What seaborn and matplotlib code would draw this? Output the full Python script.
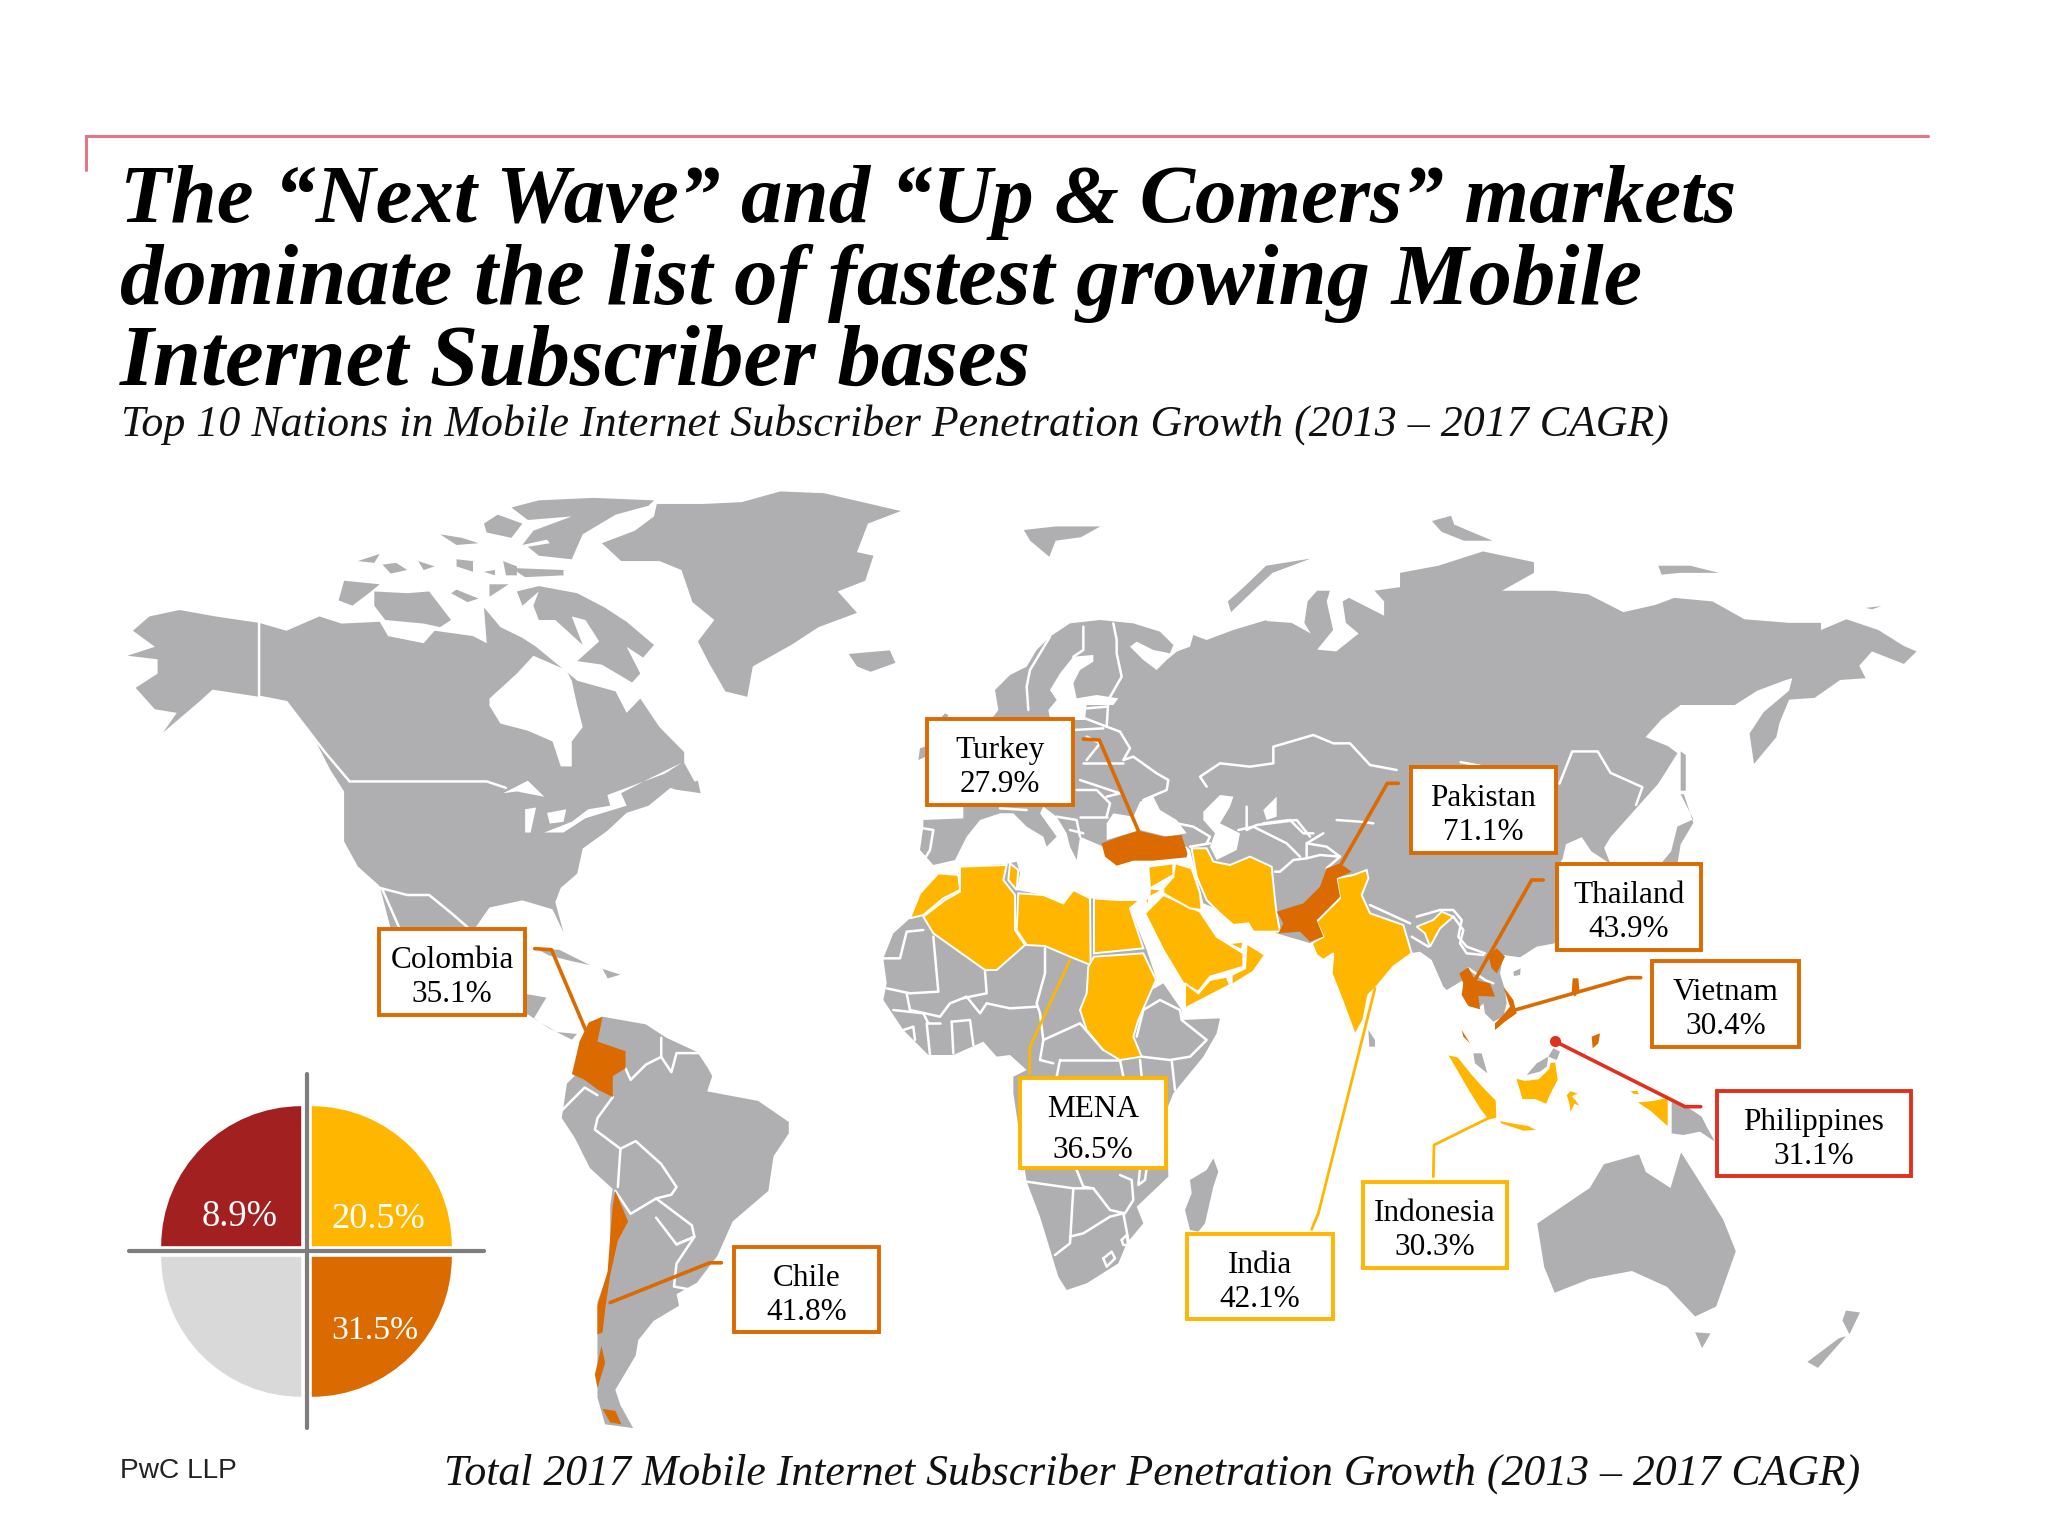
import matplotlib
matplotlib.use("Agg")
import matplotlib.pyplot as plt
from matplotlib.patches import Polygon, Rectangle
import seaborn as sns

# ---------------- values ----------------
MARKETS = ["Turkey", "Pakistan", "Thailand", "Vietnam", "Philippines", "Colombia", "Chile", "MENA", "India", "Indonesia"]
GROWTH = [27.9, 71.1, 43.9, 30.4, 31.1, 35.1, 41.8, 36.5, 42.1, 30.3]
GROUPS = ["up", "up", "up", "up", "red", "up", "up", "next", "next", "next"]
SHARE_LABELS = ["31.5%", "", "8.9%", "20.5%"]
TITLE_LINES = ["The “Next Wave” and “Up & Comers” markets",
               "dominate the list of fastest growing Mobile",
               "Internet Subscriber bases"]
SUBTITLE = "Top 10 Nations in Mobile Internet Subscriber Penetration Growth (2013 – 2017 CAGR)"
FOOTER = "Total 2017 Mobile Internet Subscriber Penetration Growth (2013 – 2017 CAGR)"
SOURCE = "PwC LLP"

# ---------------- styles ----------------
GRAY, ORANGE, YELLOW, DARKRED, RED, LIGHT, RULE, DIV = "#AFAFB1", "#DB6A00", "#FFB600", "#A32020", "#E0301E", "#D9D9D9", "#E27588", "#7D7D7D"
GROUP_COLOR = {"up": ORANGE, "next": YELLOW, "red": RED}
SERIF, SANS = "Liberation Serif", "Liberation Sans"

# map-sheet frames: origin and scale of each traced sheet of the outline
FR = {1: (100, 470, 1.823, 2.8), 2: (960, 480, 1.568, 2.8), 3: (860, 840, 1.425, 2.529), 4: (100, 900, 1.96, 2.613),
      6: (900, 620, 3, 3), 7: (870, 860, 3, 3), 8: (1400, 880, 3, 3), 9: (1120, 800, 3, 3)}
def S(fr, *pts):
    x0, y0, sx, sy = FR[fr]
    return [(x0 + a / sx, y0 + b / sy) for a, b in pts]

# ---------------- outlines ----------------
LAND = [
 S(1,(60,450),(90,410),(145,392),(210,410),(290,428),(340,450),(400,410),(440,430),(510,425),(525,465),(590,485),(610,450),(680,465),(705,485),(700,385),(730,440),(770,470),(795,495),(870,590),(940,620),(960,680),(985,640),(1020,720),(1065,790),(1065,820),(1090,890),(1040,890),(1000,940),(960,960),(925,1010),(880,1060),(870,1130),(840,1170),(830,1210),(845,1295),(825,1230),(770,1205),(710,1225),(685,1280))
 + S(4,(760,150),(832,245),(875,255),(850,310),(895,345),(935,350),(925,365),(880,335),(840,300),(700,280))
 + S(1,(530,1285),(510,1165),(470,1110),(445,1040),(445,900),(420,840),(390,750),(340,650),(290,635),(205,615),(180,650),(115,735),(140,680),(100,670),(65,610),(105,570),(105,530),(50,520),(100,495)),
 S(1,(1015,95),(1100,95),(1170,90),(1240,60),(1320,65),(1460,115),(1400,150),(1380,230),(1410,240),(1395,310),(1345,340),(1380,400),(1310,440),(1290,460),(1260,490),(1190,550),(1180,635),(1140,620),(1110,540),(1090,480),(1120,420),(1080,370),(1060,280),(1020,255),(950,255),(915,205),(975,170),(1010,130)),
 S(1,(750,105),(800,85),(900,78),(1010,85),(1000,100),(940,125),(880,180),(860,250),(800,240),(780,215),(820,205),(815,195),(770,210),(790,170),(860,130),(780,140)),
 S(1,(700,150),(725,125),(770,150),(750,190),(705,175)),
 S(1,(760,275),(845,280),(845,295),(775,300),(740,265)),
 S(1,(470,255),(510,235),(500,260)), S(1,(515,265),(540,260),(560,280),(530,290)), S(1,(620,180),(660,190),(690,205),(650,210)),
 S(1,(580,255),(610,270),(590,280)), S(1,(650,250),(680,255),(680,285),(650,270)), S(1,(700,285),(720,280),(720,295)), S(1,(735,255),(760,270),(760,295),(740,295)),
 S(1,(445,310),(510,320),(490,345),(460,380),(435,365)),
 S(1,(500,340),(560,345),(600,340),(640,420),(620,440),(590,430),(520,420),(500,380)),
 S(1,(650,335),(690,360),(670,370),(640,345)), S(1,(710,320),(745,320),(710,355)),
 S(1,(760,340),(800,325),(870,345),(920,385),(960,425),(1010,490),(990,525),(960,495),(985,570),(970,595),(915,545),(870,535),(910,480),(885,420),(860,410),(880,490),(830,420),(800,420),(790,380),(800,340),(770,380)),
 S(1,(790,530),(830,560),(800,570),(790,555)),
 S(1,(1040,890),(1090,870),(1095,905),(1050,895)),
 S(1,(1365,515),(1440,505),(1450,540),(1405,565),(1380,550)),
 S(4,(855,127),(900,130),(960,170),(925,160),(880,145)), S(4,(985,180),(1020,195),(995,205)),
 # Eurasia
 S(6,(290,240),(285,210),(330,165),(380,140),(410,90),(450,50),(510,10),(600,0),(650,5),(700,10),(780,35),(820,75),(810,100),(760,90),(710,65),(690,80),(730,120),(770,150),(800,120),(830,95),(870,80),(880,45),(920,60),(1000,30),(1100,0))
 + S(2,(480,395),(520,400),(550,430),(540,400),(545,340),(560,310),(580,310),(575,340),(585,420),(560,475),(590,480),(625,430),(605,400),(600,340),(610,330),(665,380),(665,340),(650,310),(690,300),(690,260),(750,240),(820,200),(900,230),(900,260),(850,310),(930,310),(985,320),(1040,370),(1090,350),(1120,330),(1180,340),(1230,390),(1300,400),(1350,400),(1350,420),(1390,390),(1440,420),(1480,465),(1500,480),(1480,515),(1430,480),(1410,520),(1420,555),(1380,560),(1340,610),(1300,615),(1285,680),(1280,720),(1245,795),(1238,710),(1260,650),(1300,590),(1305,555),(1295,560),(1250,590),(1215,630),(1130,630),(1100,670),(1075,720),(1110,745),(1125,765),(1095,850),(1060,920),(1040,960),(1020,1000),(1010,1030),(1020,1075),(990,1040),(975,1000),(950,1020),(945,1060),(940,1075))
 + S(8,(465,190),(410,200),(360,232),(310,225),(300,280),(315,330),(320,370),(310,410),(280,425),(255,400),(250,370),(235,385),(190,350),(190,300),(140,330),(130,320),(95,240),(60,215))
 + S(9,(870,460),(640,450),(470,400),(250,310),(210,150))
 + S(6,(860,680),(610,680),(540,650),(530,720),(510,680),(500,640),(470,590),(430,560),(420,580),(470,650),(440,680),(430,650),(380,620),(340,580),(300,580),(240,600),(200,650),(165,720),(100,735),(60,690),(70,620),(70,600),(190,595),(190,560),(150,400),(280,290),(295,270)),
 S(6,(55,420),(60,385),(80,378),(78,410)), S(6,(120,296),(135,280),(145,285),(140,298)),
 S(2,(100,140),(150,130),(220,130),(190,160),(150,170),(140,215),(130,200),(110,170)),
 S(2,(445,300),(480,240),(550,220),(490,260),(460,310),(425,370),(420,340)),
 S(2,(1095,240),(1145,240),(1190,260),(1130,260),(1100,265)),
 S(2,(740,115),(770,100),(775,125),(835,170),(790,170),(755,145)),
 S(2,(1420,358),(1445,353),(1430,362)),
 S(2,(1130,760),(1138,770),(1138,870),(1130,870)),
 S(2,(1130,880),(1150,950),(1125,970),(1115,1040),(1100,1072),(1125,1075),(1130,1020),(1150,960),(1135,880)),
 S(8,(340,275),(362,265),(360,285),(342,288)),
 S(9,(745,690),(765,720),(765,740),(748,740)),
 S(8,(220,520),(245,520),(262,580),(225,550)),
 S(8,(380,585),(410,550),(445,530),(440,560),(420,575)), S(8,(445,530),(460,505),(480,515),(470,540)),
 S(8,(815,665),(860,680),(905,710),(920,740),(945,785),(900,755),(850,765),(815,760)),
 # Africa
 S(7,(120,175),(150,100),(205,40),(265,45),(270,20),(410,12),(440,5),(450,40),(440,90),(520,105),(580,130),(610,90),(660,115),(740,120),(810,120),(780,145),(830,270),(860,360),(845,390),(880,370),(935,450),(935,480),(1050,475),(1040,520),(1000,590),(910,700),(890,750),(895,950),(800,1040),(820,1090),(770,1150),(745,1210),(650,1270),(590,1290),(565,1250),(510,1070),(470,965),(430,700),(430,650),(470,630),(420,585),(380,590),(340,545),(250,585),(175,585),(100,510),(40,420),(50,370),(40,295),(70,220)),
 S(7,(1030,895),(1045,935),(1030,980),(1005,1090),(985,1115),(960,1110),(945,1050),(965,1000),(960,960),(1010,930)),
 # South America
 S(4,(985,305),(1070,325),(1110,360),(1175,400),(1200,460),(1190,500),(1290,525),(1350,580),(1350,610),(1320,670),(1310,760),(1240,840),(1210,930),(1170,1000),(1130,1030),(1135,1060),(1085,1100),(1055,1150),(1050,1190),(1010,1280),(1020,1320),(1045,1380),(990,1370),(975,1300),(975,1200),(975,1130),(975,1050),(1000,960),(1000,800),(1005,755),(960,700),(930,620),(905,570),(915,480),(930,460),(940,370),(960,320)),
 # Oceania
 S(3,(965,970),(1040,880),(1060,820),(1110,795),(1120,840),(1155,880),(1170,790),(1195,860),(1230,960),(1248,1040),(1220,1180),(1190,1205),(1150,1130),(1100,1090),(1040,1110),(990,1145),(975,1080)),
 S(3,(1190,1245),(1212,1248),(1200,1285)),
 S(3,(1350,1320),(1395,1260),(1405,1255),(1365,1335)), S(3,(1405,1190),(1425,1195),(1410,1250),(1400,1215)),
]
WATER = [
 S(1,(710,640),(760,570),(790,520),(850,560),(860,590),(870,660),(880,720),(860,760),(860,830),(840,830),(825,760),(780,730),(730,710),(710,660)),
 S(1,(775,950),(795,945),(785,1015),(775,1015)),
 S(1,(735,905),(780,870),(810,915),(760,900)),
 S(1,(815,960),(850,950),(845,985),(820,990)),
 S(1,(810,1015),(845,1015),(885,975),(960,940),(950,905),(1000,865),(1060,820),(1030,850),(960,890),(925,910),(930,940),(890,950),(860,985)),
 S(6,(450,295),(445,270),(470,240),(450,210),(480,160),(520,110),(580,105),(580,125),(540,150),(520,190),(530,235),(590,225),(655,235),(640,255),(560,255),(555,300),(520,300)),
 S(6,(620,610),(640,580),(700,590),(720,545),(760,530),(780,570),(830,600),(860,640),(800,650),(720,630),(620,660)),
 S(6,(910,575),(960,525),(1000,530),(990,560),(960,610),(1020,640),(1010,690),(950,720),(930,680),(945,640),(910,600)),
 S(6,(1090,570),(1130,530),(1130,590),(1100,600)),
]
NEXT_WAVE = [
 S(7,(120,175),(150,100),(205,40),(265,45),(270,90),(220,115),(160,165)),
 S(7,(160,170),(225,120),(270,95),(270,20),(410,15),(400,60),(435,105),(435,210),(465,255),(380,330),(345,330),(190,220)),
 S(7,(420,10),(445,30),(440,90),(415,60)),
 S(7,(445,100),(520,105),(580,130),(610,90),(660,115),(662,315),(600,290),(525,258),(470,255),(440,210)),
 S(7,(672,115),(740,120),(810,120),(780,145),(820,265),(672,280)),
 S(7,(672,290),(820,280),(858,360),(840,400),(805,480),(790,530),(815,590),(750,600),(700,570),(650,510),(630,450),(650,400),(655,320)),
 S(7,(825,160),(880,105),(990,155),(1040,230),(1120,280),(1120,320),(1020,350),(985,395),(940,370),(880,270)),
 S(7,(945,370),(985,400),(1020,360),(1070,350),(1080,375),(945,445)),
 S(7,(1085,345),(1125,325),(1130,250),(1185,285),(1150,335),(1085,375)),
 S(7,(1075,250),(1120,245),(1115,270)),
 S(9,(75,300),(100,285),(130,270),(90,265),(85,320)),
 S(9,(85,200),(160,190),(160,225),(90,265)),
 S(9,(165,190),(215,205),(240,280),(245,330),(210,325),(130,280),(130,265),(160,230)),
 S(9,(215,145),(260,145),(280,185),(330,195),(390,170),(455,200),(465,300),(470,340),(480,395),(400,395),(385,370),(340,375),(300,340),(260,300),(230,230)),
 S(9,(650,235),(700,225),(740,210),(745,235),(725,285),(750,340),(850,375),(875,460),(820,500),(770,560),(745,585),(730,660),(705,705),(670,610),(635,520),(640,460),(610,480),(590,465),(575,430),(610,410),(590,365),(660,295)),
 S(9,(890,380),(940,360),(965,335),(1000,350),(960,385),(930,440),(915,400)),
 S(8,(140,522),(175,530),(215,580),(255,625),(290,660),(292,715),(265,722),(240,690),(200,625),(165,565)),
 S(8,(298,720),(340,728),(385,735),(418,752),(370,755),(330,742),(300,732)),
 S(8,(345,592),(375,600),(415,595),(445,565),(450,545),(468,545),(476,600),(455,640),(440,675),(405,660),(365,660),(355,625)),
 S(8,(497,645),(510,630),(540,640),(520,650),(530,660),(545,685),(525,675),(510,705),(505,670)),
 S(8,(705,665),(760,660),(806,650),(806,745),(750,695)),
 S(8,(685,630),(715,630),(720,645),(700,645)),
 S(8,(520,596),(545,598),(545,601),(520,600)),
 S(8,(568,782),(590,770),(580,782)),
]
UP_COMERS = [
 S(6,(605,670),(660,650),(715,632),(790,650),(845,645),(862,700),(860,712),(760,722),(700,722),(650,737),(615,710)),
 S(9,(620,205),(660,190),(695,215),(650,235),(660,290),(590,360),(610,410),(570,425),(540,395),(475,400),(490,370),(470,335),(550,310),(600,260)),
 S(8,(178,280),(205,262),(225,300),(270,310),(285,350),(235,348),(240,388),(205,378),(185,345),(190,310)),
 S(8,(185,450),(210,490),(190,470)),
 S(8,(265,225),(290,205),(315,230),(290,280),(275,265)),
 S(8,(310,320),(340,360),(350,400),(315,425),(285,450),(285,430),(305,410),(330,380)),
 S(8,(518,295),(535,295),(538,330),(525,350),(515,340)),
 S(8,(575,470),(600,460),(595,490),(578,505)),
 S(4,(985,305),(975,370),(1030,395),(1030,440),(1005,460),(1005,515),(975,495),(950,470),(925,455),(940,370),(958,320)),
 S(4,(1010,760),(1035,840),(1015,890),(1000,980),(990,1070),(985,1130),(975,1135),(975,1060),(995,970),(1000,880),(1005,800)),
 S(4,(983,1165),(990,1210),(975,1275),(970,1240)),
 S(4,(985,1330),(1010,1335),(1022,1370),(1000,1365)),
]
BORDERS = [
 S(1,(290,428),(290,635),(340,650),(385,740),(410,790),(455,872)),
 S(1,(455,872),(705,872),(740,890)),
 S(1,(510,1170),(560,1190),(600,1190),(640,1240),(670,1280)),
 S(1,(515,1175),(545,1280)),
 S(4,(905,550),(950,490),(975,510)),
 S(4,(1005,515),(975,570),(970,600),(1000,630),(1020,650),(1015,750)),
 S(4,(1020,650),(1050,630),(1100,690),(1130,750),(1120,770),(1090,780),(1040,820),(1010,760)),
 S(4,(1090,780),(1130,820),(1160,850),(1165,880),(1130,900),(1090,830)),
 S(4,(1130,900),(1165,880),(1130,950),(1125,1010),(1165,1020)),
 S(4,(1030,440),(1040,470),(1070,430),(1100,410),(1100,360)),
 S(4,(1100,410),(1120,450),(1130,400),(1175,400),(1190,430)),
 S(7,(40,295),(90,295),(110,215),(160,210)),
 S(7,(190,230),(205,395),(120,400),(50,385)),
 S(7,(345,335),(350,400),(300,410),(280,415)),
 S(7,(525,265),(525,340),(500,430),(510,460)),
 S(7,(350,430),(420,445),(500,440)),
 S(7,(520,540),(630,490),(700,570)),
 S(7,(510,460),(520,540),(510,600),(550,610)),
 S(7,(570,600),(750,600)), S(7,(560,650),(570,600)),
 S(7,(800,530),(820,450),(870,420),(930,450),(935,480),(1010,540),(960,590),(900,600),(815,590)),
 S(7,(905,600),(915,690)), S(7,(750,600),(760,650)), S(7,(810,600),(815,650)),
 S(7,(110,400),(120,450),(210,470),(240,430),(290,410),(330,460),(350,430)),
 S(7,(175,490),(210,490)), S(7,(245,485),(300,480),(310,555)), S(7,(245,485),(250,580)), S(7,(170,490),(180,585)),
 S(7,(70,450),(160,460),(175,490)), S(7,(100,510),(130,500),(135,540)),
 S(7,(470,965),(610,985),(670,985),(720,1050),(765,1060),(790,1020),(785,960),(750,945)),
 S(7,(610,985),(600,1150),(555,1185)),
 S(7,(600,1130),(640,1120),(720,1070),(760,1060),(775,1140)),
 S(7,(620,930),(640,980),(670,985)),
 S(7,(700,1195),(725,1175),(735,1195),(710,1220),(700,1195)),
 S(7,(755,1140),(770,1125),(775,1155),(760,1155),(755,1140)),
 S(7,(810,925),(805,975),(825,960),(830,925)),
 S(6,(640,10),(650,60),(650,100),(665,170),(625,240),(620,320),(660,335),(690,385),(670,420),(700,410),(770,460),(805,480),(800,510),(730,540)),
 S(6,(450,50),(390,150),(380,200),(385,270)),
 S(6,(550,20),(550,90),(520,110)),
 S(6,(560,265),(620,260)), S(6,(555,295),(620,320)), S(6,(520,330),(610,325)),
 S(6,(560,350),(600,370),(560,420)), S(6,(550,430),(670,430)),
 S(6,(540,480),(660,520),(620,530)), S(6,(530,510),(590,510),(630,550),(620,590)),
 S(6,(540,590),(620,590)), S(6,(470,590),(530,600),(540,650)), S(6,(510,630),(550,640)),
 S(6,(70,625),(100,630),(90,690),(75,715)), S(6,(300,565),(380,570)),
 S(6,(830,610),(880,620),(930,650),(920,670)), S(6,(870,680),(930,670)),
 S(6,(920,500),(900,470),(960,430),(1050,440),(1120,430),(1120,380),(1240,345),(1300,370),(1350,370),(1410,435),(1490,450)),
 S(6,(1040,560),(1040,630),(1070,615),(1190,600),(1230,650)),
 S(2,(785,790),(815,800)),
 S(2,(940,850),(960,760),(1000,760),(1020,820),(1070,860),(1060,910)),
 S(9,(465,215),(480,215),(520,180),(560,175),(600,165),(660,170),(620,205)),
 S(9,(355,90),(400,80),(500,130),(540,170)),
 S(9,(430,70),(510,60),(550,100),(580,100)),
 S(9,(560,130),(610,100)), S(9,(650,60),(720,65),(760,70)),
 S(9,(560,170),(560,130),(620,140),(660,170)),
 S(9,(750,315),(870,370)), S(9,(875,410),(925,440)),
 S(9,(1000,350),(1030,390),(1020,430),(1040,460),(1090,465)),
 S(8,(50,110),(120,90),(160,90),(185,120),(175,170),(200,200),(255,220)),
 S(8,(205,265),(255,300),(280,310)),
]

# ---------------- callouts (layout) ----------------
BOXES = {"Turkey": (927, 719, 146, 86), "Pakistan": (1411, 767, 145, 86), "Thailand": (1557, 864, 144, 86),
         "Vietnam": (1652, 961, 147, 86), "Philippines": (1717, 1091, 194, 85), "Colombia": (379, 929, 146, 86),
         "Chile": (734, 1247, 145, 85), "MENA": (1020, 1078, 146, 90), "India": (1187, 1234, 146, 85), "Indonesia": (1363, 1182, 144, 86)}
LEADERS = {"Turkey": S(6,(550,357),(598,360),(715,632)),
           "Pakistan": S(6,(1325,730),(1462,490),(1495,490)),
           "Thailand": S(8,(225,300),(395,0),(430,0)),
           "Vietnam": S(8,(345,390),(685,293),(722,293)),
           "Philippines": S(8,(465,484),(855,680),(902,680)),
           "Colombia": S(4,(852,127),(885,130),(952,340)),
           "Chile": S(4,(1000,1052),(1195,948),(1218,948)),
           "MENA": S(7,(600,300),(480,560),(478,640)),
           "India": S(9,(765,565)) + S(7,(1345,1060),(1325,1108)),
           "Indonesia": S(8,(270,712),(102,795),(100,890))}

sns.set_theme(style="white")
plt.rcParams["font.family"] = [SERIF, "DejaVu Serif"]
fig = plt.figure(figsize=(20.48, 15.36), dpi=100, facecolor="white")
ax = fig.add_axes([0, 0, 1, 1])

for poly in LAND:
    ax.add_patch(Polygon(poly, closed=True, fc=GRAY, ec="none", zorder=1))
for poly in WATER:
    ax.add_patch(Polygon(poly, closed=True, fc="white", ec="none", zorder=1.5))
for line in BORDERS:
    ax.plot(*zip(*line), color="white", lw=1.8, zorder=2, solid_joinstyle="round")
for poly in NEXT_WAVE:
    ax.add_patch(Polygon(poly, closed=True, fc=YELLOW, ec="white", lw=1.4, zorder=3))
for poly in UP_COMERS:
    ax.add_patch(Polygon(poly, closed=True, fc=ORANGE, ec="none", zorder=3.2))

# pie quadrants (first wedge: lower right, y axis is inverted)
wedges, _ = ax.pie([1, 1, 1, 1], colors=sns.color_palette([ORANGE, LIGHT, DARKRED, YELLOW]), center=(306.5, 1251.5),
                   radius=140, explode=[7.5] * 4, startangle=0, frame=True, wedgeprops={"lw": 0, "zorder": 4})
ax.plot([129, 484], [1251, 1251], color=DIV, lw=3, zorder=4.5)
ax.plot([307, 307], [1074, 1428], color=DIV, lw=3, zorder=4.5)

def fit(t, width):
    w = t.get_window_extent(fig.canvas.get_renderer()).width
    t.set_fontsize(t.get_fontsize() * width / w)
    return t

SHARE_POS = [(374.5, 1339), None, (240, 1226), (378, 1228)]
SHARE_W = [87, 0, 76, 94]
for lab, pos, w in zip(SHARE_LABELS, SHARE_POS, SHARE_W):
    if lab:
        fit(ax.text(pos[0], pos[1], lab, color="white", fontsize=27, ha="center", va="baseline", zorder=6), w)

# leaders and boxes
for m, g, v in zip(MARKETS, GROUPS, GROWTH):
    col = GROUP_COLOR[g]
    pts = LEADERS[m]
    sns.lineplot(x=[p[0] for p in pts], y=[p[1] for p in pts], sort=False, estimator=None, color=col,
                 lw=2.0 if g == "next" else 2.6, ax=ax, zorder=7, legend=False)
    x, y, w, h = BOXES[m]
    ax.add_patch(Rectangle((x, y), w, h, fc="white", ec=col, lw=2.8, zorder=8))
    second = 80 if m == "MENA" else 73
    ax.text(x + w / 2, y + 39, m, fontsize=22.5, color="black", ha="center", va="baseline", zorder=9)
    ax.text(x + w / 2, y + second, f"{v:.1f}%", fontsize=22.5, color="black", ha="center", va="baseline", zorder=9)
ax.plot(*S(8, (465, 484))[0], "o", color=RED, ms=8, mec="none", zorder=9)

# rule, titles
ax.plot([85.5, 85.5, 1928], [170, 136, 136], color=RULE, lw=2.2, zorder=9, solid_joinstyle="miter")
TITLE_BASE = [222, 304, 385]
TITLE_W = [1617, 1523, 912]
for line, yb, w in zip(TITLE_LINES, TITLE_BASE, TITLE_W):
    fit(ax.text(120, yb, line, fontsize=52, fontweight="bold", style="italic", color="black", va="baseline", zorder=9), w)
fit(ax.text(121, 436, SUBTITLE, fontsize=30, style="italic", color="#111111", va="baseline", zorder=9), 1546)
fit(ax.text(444, 1485, FOOTER, fontsize=30, style="italic", color="#111111", va="baseline", zorder=9), 1417)
fit(ax.text(120, 1478, SOURCE, fontsize=20, family=SANS, color="#222222", va="baseline", zorder=9), 117)

ax.set_xlim(0, 2048)
ax.set_ylim(1536, 0)
ax.set_aspect("auto")
ax.axis("off")
sns.despine(ax=ax, left=True, bottom=True)
fig.savefig("out.png", dpi=100, facecolor="white")
